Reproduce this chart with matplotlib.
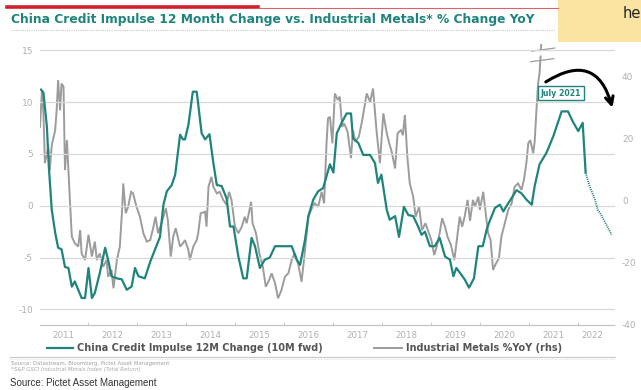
import matplotlib
matplotlib.use("Agg")
import matplotlib.pyplot as plt
from matplotlib.lines import Line2D
from matplotlib.patches import Rectangle

# China credit impulse, 12M change, shifted 10 months forward (left axis)
credit_t = [2011.04, 2011.09, 2011.16, 2011.20, 2011.26, 2011.33, 2011.39, 2011.46, 2011.53, 2011.60,
            2011.67, 2011.73, 2011.80, 2011.87, 2011.94, 2012.01, 2012.08, 2012.14, 2012.24, 2012.35,
            2012.41, 2012.48, 2012.59, 2012.69, 2012.79, 2012.89, 2012.96, 2013.03, 2013.16, 2013.27,
            2013.37, 2013.47, 2013.54, 2013.61, 2013.71, 2013.78, 2013.88, 2013.94, 2013.98, 2014.05,
            2014.14, 2014.22, 2014.32, 2014.39, 2014.48, 2014.56, 2014.63, 2014.73, 2014.83, 2014.90,
            2014.97, 2015.07, 2015.17, 2015.24, 2015.34, 2015.41, 2015.51, 2015.61, 2015.71, 2015.82,
            2016.16, 2016.26, 2016.33, 2016.43, 2016.50, 2016.60, 2016.70, 2016.80, 2016.94, 2017.01,
            2017.08, 2017.18, 2017.28, 2017.37, 2017.41, 2017.52, 2017.62, 2017.76, 2017.86, 2017.92,
            2017.99, 2018.10, 2018.16, 2018.27, 2018.35, 2018.45, 2018.54, 2018.64, 2018.74, 2018.81,
            2018.88, 2018.98, 2019.08, 2019.18, 2019.29, 2019.39, 2019.46, 2019.52, 2019.63, 2019.69,
            2019.78, 2019.88, 2019.97, 2020.06, 2020.14, 2020.20, 2020.31, 2020.41, 2020.48, 2020.54,
            2020.65, 2020.75, 2020.85, 2020.95, 2021.06, 2021.12, 2021.22, 2021.36, 2021.50, 2021.60,
            2021.67, 2021.80, 2021.90, 2022.01, 2022.10, 2022.16]
credit = [11.2, 10.9, 7.65, 3.8, -0.4, -2.6, -4.05, -4.2, -5.9, -6.0,
          -7.8, -7.3, -8.1, -8.9, -8.9, -6.0, -8.9, -8.4, -6.5, -4.05,
          -5.2, -6.8, -7.0, -7.1, -8.1, -7.8, -6.0, -6.8, -7.0, -5.4,
          -4.2, -3.0, 0.1, 1.4, 2.0, 3.0, 6.85, 6.4, 6.4, 7.8,
          11.0, 11.0, 7.0, 6.4, 6.9, 4.1, 2.0, 1.9, 0.7, -2.0,
          -2.0, -4.9, -7.0, -7.0, -3.1, -3.9, -6.0, -5.2, -5.0, -3.9,
          -3.9, -5.2, -5.7, -3.3, -1.0, 0.6, 1.4, 1.7, 4.0, 3.2,
          7.0, 8.0, 8.9, 8.9, 6.5, 6.05, 4.9, 4.9, 4.1, 2.2,
          3.0, -0.4, -1.35, -1.0, -3.0, -0.1, -0.9, -1.0, -2.0, -2.8,
          -2.5, -3.9, -3.9, -3.1, -4.9, -5.2, -6.8, -6.0, -6.7, -7.1,
          -7.9, -7.0, -3.9, -3.9, -2.3, -1.5, -0.2, 0.1, -0.55, -0.06,
          0.75, 1.5, 1.2, 0.6, 0.1, 1.9, 4.0, 5.1, 6.7, 8.1,
          9.1, 9.1, 8.1, 7.2, 8.0, 3.2]

# projected part of the credit impulse (dotted)
proj_t = [2022.16, 2022.24, 2022.35, 2022.41, 2022.48, 2022.58, 2022.69]
proj = [3.2, 1.9, 0.6, -0.4, -0.9, -1.8, -2.8]

# S&P GSCI industrial metals, % YoY (right axis)
metals_t = [2011.02, 2011.06, 2011.09, 2011.12, 2011.19, 2011.22, 2011.26, 2011.33, 2011.36, 2011.39,
            2011.43, 2011.46, 2011.50, 2011.53, 2011.57, 2011.60, 2011.63, 2011.67, 2011.73, 2011.80,
            2011.84, 2011.87, 2011.94, 2012.01, 2012.08, 2012.14, 2012.18, 2012.24, 2012.31, 2012.38,
            2012.41, 2012.48, 2012.52, 2012.59, 2012.65, 2012.70, 2012.72, 2012.77, 2012.82, 2012.88,
            2012.92, 2012.99, 2013.06, 2013.13, 2013.20, 2013.27, 2013.33, 2013.38, 2013.43, 2013.50,
            2013.59, 2013.63, 2013.69, 2013.74, 2013.79, 2013.88, 2013.94, 2013.98, 2014.05, 2014.08,
            2014.15, 2014.22, 2014.25, 2014.30, 2014.39, 2014.42, 2014.46, 2014.52, 2014.56, 2014.63,
            2014.69, 2014.76, 2014.83, 2014.88, 2014.93, 2015.00, 2015.07, 2015.14, 2015.20, 2015.24,
            2015.29, 2015.33, 2015.36, 2015.43, 2015.50, 2015.57, 2015.63, 2015.70, 2015.75, 2015.82,
            2015.88, 2015.95, 2016.02, 2016.09, 2016.16, 2016.22, 2016.29, 2016.36, 2016.41, 2016.50,
            2016.57, 2016.63, 2016.70, 2016.77, 2016.82, 2016.87, 2016.90, 2016.94, 2016.99, 2017.04,
            2017.10, 2017.14, 2017.19, 2017.23, 2017.30, 2017.37, 2017.41, 2017.46, 2017.53, 2017.60,
            2017.69, 2017.76, 2017.82, 2017.89, 2017.96, 2018.03, 2018.10, 2018.15, 2018.20, 2018.27,
            2018.32, 2018.39, 2018.43, 2018.47, 2018.52, 2018.57, 2018.64, 2018.69, 2018.76, 2018.82,
            2018.89, 2018.96, 2019.01, 2019.07, 2019.12, 2019.18, 2019.23, 2019.29, 2019.34, 2019.41,
            2019.48, 2019.54, 2019.59, 2019.64, 2019.69, 2019.75, 2019.80, 2019.86, 2019.90, 2019.97,
            2020.00, 2020.07, 2020.12, 2020.17, 2020.22, 2020.27, 2020.33, 2020.39, 2020.44, 2020.51,
            2020.58, 2020.65, 2020.71, 2020.78, 2020.85, 2020.90, 2020.95, 2020.99, 2021.03, 2021.09,
            2021.12, 2021.16, 2021.19, 2021.22, 2021.26]
metals = [23.7, 35.5, 28.0, 12.0, 17.3, 9.8, 17.8, 22.6, 29.0, 38.7,
          29.0, 37.6, 36.6, 9.8, 19.4, 9.8, 0.2, -11.6, -13.7, -14.8,
          -9.5, -17.0, -19.1, -11.0, -18.0, -13.2, -19.1, -17.0, -21.3, -19.1,
          -24.5, -22.3, -28.2, -19.1, -14.8, -2.0, 5.5, -4.1, -2.0, 2.8,
          2.3, -2.0, -5.2, -10.5, -13.2, -12.7, -8.9, -5.2, -10.5, -7.3,
          -2.5, -6.3, -18.0, -11.6, -8.9, -14.8, -13.7, -12.7, -15.9, -19.1,
          -14.8, -12.7, -10.5, -4.1, -3.6, -8.4, 4.4, 7.6, 4.4, 2.3,
          2.8, 0.2, -1.4, 2.8, 0.2, -8.4, -10.5, -8.4, -5.2, -7.3,
          -3.6, -0.4, -7.3, -10.5, -17.0, -21.3, -27.7, -25.5, -23.4, -26.6,
          -31.4, -28.8, -24.5, -23.4, -19.1, -17.0, -20.2, -26.1, -19.1, -5.2,
          -2.5, -0.9, -2.0, 2.8, -0.9, 18.4, 26.4, 26.9, 18.4, 34.4,
          32.3, 33.4, 23.7, 24.8, 22.1, 13.6, 22.6, 18.9, 20.5, 25.9,
          34.4, 31.7, 36.0, 22.6, 12.0, 28.0, 21.6, 18.4, 15.7, 10.3,
          21.6, 22.6, 21.0, 27.5, 14.1, 5.5, 1.2, -5.2, -2.0, -9.5,
          -7.3, -10.5, -12.7, -17.5, -14.8, -10.5, -5.7, -8.4, -11.6, -14.3,
          -19.1, -11.6, -5.2, -8.4, -5.2, 0.2, -6.5, 0.2, -2.0, 1.2,
          -3.0, 2.8, -4.1, -10.5, -12.7, -22.3, -20.2, -18.6, -11.6, -7.3,
          -3.0, -0.9, 4.4, 5.5, 3.4, 6.6, 12.0, 18.4, 19.4, 15.2,
          18.9, 30.1, 37.6, 40.9, 52.0]

years = [2011, 2012, 2013, 2014, 2015, 2016, 2017, 2018, 2019, 2020, 2021, 2022]
left_ticks = [15, 10, 5, 0, -5, -10]
right_ticks = [40, 20, 0, -20, -40]

teal = "#1f847b"
grey = "#9c9c9c"
label_grey = "#b0b0b0"

fig = plt.figure(figsize=(6.41, 3.90), dpi=100)
W, H = 641, 390

def fx(px):
    return px / W

def fy(py):
    return 1 - py / H

# header: red rule, title, dotted rule
fig.add_artist(Line2D([fx(7), fx(258)], [fy(7), fy(7)], color="#d3202f", lw=2.6))
fig.add_artist(Line2D([fx(258), fx(558)], [fy(7.5), fy(7.5)], color="#e0606a", lw=0.8))
fig.text(fx(11), fy(20), "China Credit Impulse 12 Month Change vs. Industrial Metals* % Change YoY",
         color=teal, fontsize=8.8, fontweight="bold", va="center", ha="left")
fig.add_artist(Line2D([fx(11), fx(555)], [fy(30), fy(30)], color="#c8c8c8", lw=0.8, ls=(0, (1, 1))))

# sticky note in the corner
fig.add_artist(Rectangle((fx(558), fy(42)), 1 - fx(558), fy(0) - fy(42),
                         transform=fig.transFigure, facecolor="#fbe3a2", edgecolor="none"))
fig.text(fx(623), fy(14), "he", fontsize=10.5, color="#222222", va="center", ha="left")

ax = fig.add_axes([fx(40), fy(325), fx(615) - fx(40), fy(44) - fy(325)])
ax2 = ax.twinx()
ax.set_zorder(ax2.get_zorder() + 1)
ax.patch.set_visible(False)

x_lo, x_hi = 2011.02, 2022.76
ax.set_xlim(x_lo, x_hi)
ax.set_ylim(-11.5, 15.6)
ax2.set_ylim(-40, 50.3)

# grid on the left scale
for v in left_ticks:
    ax.axhline(v, color="#d8d8d8", lw=0.9, zorder=0)

ax2.plot(metals_t, metals, color=grey, lw=1.4, solid_joinstyle="miter")
ax.plot(credit_t, credit, color=teal, lw=1.6)
ax.plot(proj_t, proj, color=teal, lw=1.3, ls=(0, (0.6, 0.6)))

# axis break marks where the metals series runs off the top
ax2.plot([2021.06, 2021.53], [46.9, 47.9], color="white", lw=3, solid_capstyle="butt", zorder=5)
ax2.plot([2021.06, 2021.53], [48.0, 49.0], color=grey, lw=0.9, zorder=6)
ax2.plot([2021.04, 2021.51], [44.6, 45.6], color=grey, lw=0.9, zorder=6)

# annotation at the peak
ax.text(2021.66, 10.85, "July 2021", color=teal, fontsize=5.6, fontweight="bold",
        ha="center", va="center", zorder=10,
        bbox=dict(boxstyle="square,pad=0.35", facecolor="white", edgecolor=teal, lw=1.0))
ax.annotate("", xy=(2022.72, 9.2), xytext=(2021.30, 11.8),
            arrowprops=dict(arrowstyle="->", connectionstyle="arc3,rad=-0.7",
                            lw=2.2, color="black", mutation_scale=14), zorder=11)

for a in (ax, ax2):
    for s in a.spines.values():
        s.set_visible(False)
ax.spines["bottom"].set_visible(True)
ax.spines["bottom"].set_color("#c0c0c0")
ax.spines["bottom"].set_linestyle((0, (1, 1)))
ax.spines["bottom"].set_linewidth(0.8)

ax.set_yticks(left_ticks)
ax.set_yticklabels([str(v) for v in left_ticks])
ax2.set_yticks(right_ticks)
ax2.set_yticklabels([str(v) for v in right_ticks])
ax.tick_params(axis="y", length=0, pad=5, labelsize=6.5, labelcolor=label_grey)
ax2.tick_params(axis="y", length=0, pad=5, labelsize=6.5, labelcolor=label_grey)

label_pos = [min(y + 0.5, 2022.3) for y in years]
ax.set_xticks(label_pos)
ax.set_xticklabels([str(y) for y in years])
ax.set_xticks([y for y in years[1:]], minor=True)
ax.tick_params(axis="x", which="major", length=0, pad=4, labelsize=6.2, labelcolor=label_grey)
ax.tick_params(axis="x", which="minor", length=2, direction="in", color="#c0c0c0")

# legend row
fig.add_artist(Line2D([fx(47), fx(73)], [fy(348), fy(348)], color=teal, lw=1.6))
fig.text(fx(77), fy(348), "China Credit Impulse 12M Change (10M fwd)", fontsize=7,
         fontweight="bold", color="#555555", va="center", ha="left")
fig.add_artist(Line2D([fx(374), fx(402)], [fy(348), fy(348)], color=grey, lw=1.4))
fig.text(fx(406), fy(348), "Industrial Metals %YoY (rhs)", fontsize=7,
         fontweight="bold", color="#555555", va="center", ha="left")

# footer
fig.add_artist(Line2D([fx(10), fx(615)], [fy(357), fy(357)], color="#c8c8c8", lw=0.8))
fig.add_artist(Line2D([fx(10), fx(615)], [fy(359), fy(359)], color="#dddddd", lw=0.6, ls=(0, (1, 1))))
fig.text(fx(11), fy(364), "Source: Datastream, Bloomberg, Pictet Asset Management", fontsize=3.9,
         color="#a0a0a0", va="center", ha="left")
fig.text(fx(11), fy(370), "*S&P GSCI Industrial Metals Index (Total Return)", fontsize=3.9,
         color="#a8a8a8", style="italic", va="center", ha="left")
fig.text(fx(10), fy(383), "Source: Pictet Asset Management", fontsize=7, family="Liberation Sans",
         color="#333333", va="center", ha="left")

fig.savefig("out.png", dpi=100)
